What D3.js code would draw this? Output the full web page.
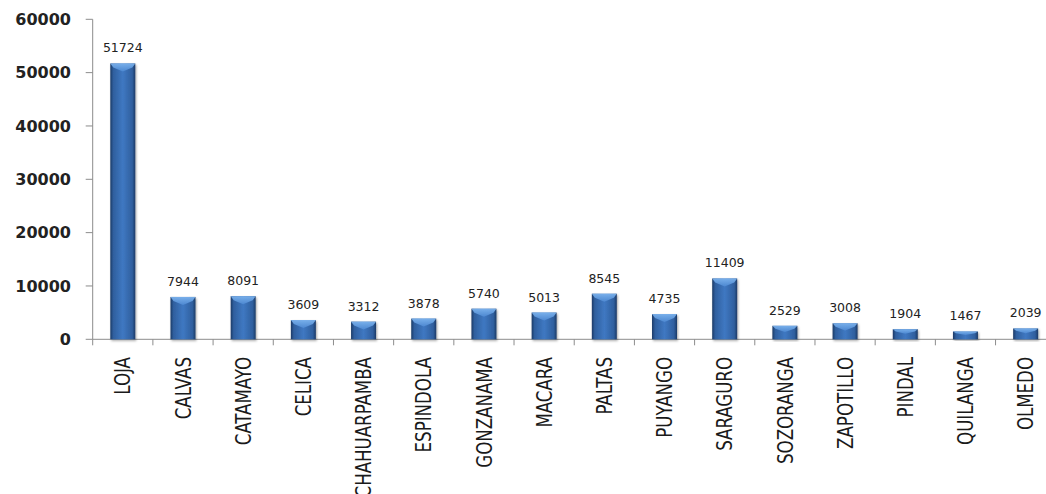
<!DOCTYPE html>
<html>
<head>
<meta charset="utf-8">
<script src="https://cdn.jsdelivr.net/npm/d3@7"></script>
<style>
  body { margin: 0; background: #fff; }
  svg { display: block; }
</style>
</head>
<body>
<script>
var w = 1046;
var h = 494;

// data
var cantones = ['LOJA', 'CALVAS', 'CATAMAYO', 'CELICA', 'CHAHUARPAMBA', 'ESPINDOLA',
  'GONZANAMA', 'MACARA', 'PALTAS', 'PUYANGO', 'SARAGURO', 'SOZORANGA',
  'ZAPOTILLO', 'PINDAL', 'QUILANGA', 'OLMEDO'];
var poblacion = [51724, 7944, 8091, 3609, 3312, 3878, 5740, 5013, 8545, 4735,
  11409, 2529, 3008, 1904, 1467, 2039];
var yTicks = [0, 10000, 20000, 30000, 40000, 50000, 60000];

var rows = cantones.map((c, i) => ({ name: c, value: poblacion[i] }));

var left = 92.7, bandW = 60.19;

var scaleX = d3.scaleBand()
  .domain(cantones)
  .range([left, left + bandW * cantones.length])
  .paddingInner(0.585)
  .paddingOuter(0.2925);

var scaleY = d3.scaleLinear()
  .domain([0, 60000])
  .range([339.3, 19.3]);

var svg = d3.select('body').append('svg')
  .attr('width', w)
  .attr('height', h);

var defs = svg.append('defs');
var grad = defs.append('linearGradient').attr('id', 'barGrad')
  .attr('x1', 0).attr('x2', 1).attr('y1', 0).attr('y2', 0);
grad.append('stop').attr('offset', '0%').attr('stop-color', '#1c3a66');
grad.append('stop').attr('offset', '12%').attr('stop-color', '#2f5f9e');
grad.append('stop').attr('offset', '50%').attr('stop-color', '#3f78c2');
grad.append('stop').attr('offset', '88%').attr('stop-color', '#2f5f9e');
grad.append('stop').attr('offset', '100%').attr('stop-color', '#1c3a66');

var topGrad = defs.append('linearGradient').attr('id', 'topGrad')
  .attr('x1', 0).attr('x2', 0).attr('y1', 0).attr('y2', 1);
topGrad.append('stop').attr('offset', '0%').attr('stop-color', '#7fb6f0');
topGrad.append('stop').attr('offset', '100%').attr('stop-color', '#4f8ad3');

var shadow = defs.append('filter').attr('id', 'shadow')
  .attr('x', '-30%').attr('y', '-10%').attr('width', '160%').attr('height', '130%');
shadow.append('feDropShadow').attr('dx', 1).attr('dy', 1.5)
  .attr('stdDeviation', 1.2).attr('flood-color', '#000').attr('flood-opacity', 0.35);

// axes
svg.append('line')
  .attr('x1', left).attr('x2', left)
  .attr('y1', scaleY(60000)).attr('y2', scaleY(0))
  .attr('stroke', '#8c8c8c');
svg.append('line')
  .attr('x1', left).attr('x2', w)
  .attr('y1', scaleY(0)).attr('y2', scaleY(0))
  .attr('stroke', '#8c8c8c');

svg.selectAll('.ytick')
  .data(yTicks)
  .enter().append('line')
  .attr('x1', left - 7).attr('x2', left)
  .attr('y1', (d) => scaleY(d)).attr('y2', (d) => scaleY(d))
  .attr('stroke', '#8c8c8c');

svg.selectAll('.ylab')
  .data(yTicks)
  .enter().append('text')
  .attr('x', 71)
  .attr('y', (d) => scaleY(d))
  .attr('dy', '0.36em')
  .attr('text-anchor', 'end')
  .attr('font-family', 'DejaVu Sans, Verdana, sans-serif')
  .attr('font-weight', 'bold')
  .attr('font-size', 16)
  .attr('fill', '#222')
  .text((d) => d);

svg.selectAll('.xtick')
  .data(d3.range(cantones.length + 1))
  .enter().append('line')
  .attr('x1', (d) => left + d * bandW).attr('x2', (d) => left + d * bandW)
  .attr('y1', scaleY(0)).attr('y2', scaleY(0) + 6)
  .attr('stroke', '#8c8c8c');

// bars
var bars = svg.selectAll('.bar')
  .data(rows)
  .enter().append('g')
  .attr('filter', 'url(#shadow)');

bars.append('rect')
  .attr('x', (d) => scaleX(d.name))
  .attr('y', (d) => scaleY(d.value))
  .attr('width', scaleX.bandwidth())
  .attr('height', (d) => scaleY(0) - scaleY(d.value))
  .attr('fill', 'url(#barGrad)');

bars.append('path')
  .attr('d', (d) => {
    var x0 = scaleX(d.name), x1 = x0 + scaleX.bandwidth();
    var y0 = scaleY(d.value);
    var bh = scaleY(0) - y0;
    var dd = Math.min(8, bh * 0.45);
    var inset = 3;
    return 'M' + x0 + ',' + y0 + 'L' + x1 + ',' + y0 +
      'L' + (x1 - inset) + ',' + (y0 + dd * 0.5) +
      'L' + ((x0 + x1) / 2) + ',' + (y0 + dd) +
      'L' + (x0 + inset) + ',' + (y0 + dd * 0.5) + 'Z';
  })
  .attr('fill', 'url(#topGrad)')
  .attr('opacity', 0.9);

// value labels
svg.selectAll('.val')
  .data(rows)
  .enter().append('text')
  .attr('x', (d) => scaleX(d.name) + scaleX.bandwidth() / 2)
  .attr('y', (d) => scaleY(d.value) - 11)
  .attr('text-anchor', 'middle')
  .attr('font-family', 'DejaVu Sans, Verdana, sans-serif')
  .attr('font-size', 12.5)
  .attr('fill', '#222')
  .text((d) => d.value);

// category labels
svg.selectAll('.cat')
  .data(rows)
  .enter().append('text')
  .attr('transform', (d) => 'translate(' + (scaleX(d.name) + scaleX.bandwidth() / 2) + ',357) rotate(-90) scale(1,1.15)')
  .attr('dy', '0.36em')
  .attr('text-anchor', 'end')
  .attr('font-family', 'Liberation Sans Narrow, DejaVu Sans Condensed, sans-serif')
  .attr('font-size', 18.5)
  .attr('fill', '#1a1a1a')
  .text((d) => d.name);
</script>
</body>
</html>
